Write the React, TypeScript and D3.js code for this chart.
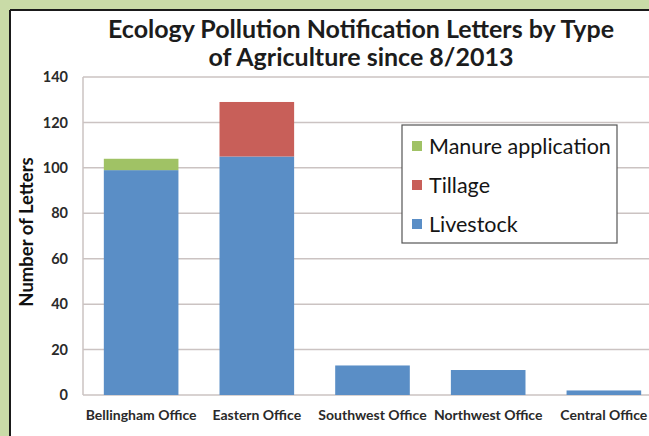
import React from "react";
import * as d3 from "d3";

const offices = ["Bellingham Office", "Eastern Office", "Southwest Office", "Northwest Office", "Central Office"];
const livestock = [99, 105, 13, 11, 2];
const tillage = [0, 24, 0, 0, 0];
const manure = [5, 0, 0, 0, 0];
const yTicks = [0, 20, 40, 60, 80, 100, 120, 140];
const seriesKeys = ["Livestock", "Tillage", "Manure application"];
const legendOrder = ["Manure application", "Tillage", "Livestock"];
const titleLines = ["Ecology Pollution Notification Letters by Type", "of Agriculture since 8/2013"];

const colors: Record<string, string> = {
  Livestock: "#5a8ec6",
  Tillage: "#c85f59",
  "Manure application": "#a0c265",
};

const W = 649;
const H = 436;
const FONT = "Lato, 'Open Sans', sans-serif";

export default function App() {
  const rows = offices.map((o, i) => ({
    office: o,
    Livestock: livestock[i],
    Tillage: tillage[i],
    "Manure application": manure[i],
  }));
  const stacked = d3.stack<any>().keys(seriesKeys)(rows);

  const plotLeft = 83;
  const plotRight = 662;
  const x = d3.scaleBand<string>().domain(offices).range([plotLeft, plotRight]).paddingInner(0.355).paddingOuter(0.18);
  const y = d3.scaleLinear().domain([0, 140]).range([395, 77]);
  const grid = "#cbc3c2";

  return (
    <svg width={W} height={H} style={{ position: "absolute", left: 0, top: 0 }} fontFamily={FONT}>
      <rect x={0} y={0} width={W} height={H} fill="#c9dba7" />
      <rect x={10} y={10} width={W} height={H} fill="#ffffff" />
      <line x1={10} y1={10} x2={W} y2={10} stroke="#1a1a1a" strokeWidth={2} />
      <line x1={10} y1={10} x2={10} y2={H} stroke="#1a1a1a" strokeWidth={2} />

      {titleLines.map((t, i) => (
        <text key={t} x={361} y={38 + i * 28} textAnchor="middle" fontSize={25} fontWeight={700} fill="#1c1c1c">
          {t}
        </text>
      ))}

      {yTicks.map((t) => (
        <g key={t}>
          <line x1={plotLeft} x2={W} y1={y(t)} y2={y(t)} stroke={grid} strokeWidth={1.5} />
          <text x={68} y={y(t)} dy="0.35em" textAnchor="end" fontSize={14.5} fontWeight={700} fill="#2a2a2a">
            {t}
          </text>
        </g>
      ))}
      <line x1={plotLeft} x2={plotLeft} y1={y(140)} y2={y(0)} stroke={grid} strokeWidth={1.5} />

      {stacked.map((s) => (
        <g key={s.key} fill={colors[s.key]}>
          {s.map((d, i) =>
            d[1] - d[0] > 0 ? (
              <rect
                key={offices[i]}
                x={x(offices[i])}
                width={x.bandwidth()}
                y={y(d[1])}
                height={y(d[0]) - y(d[1])}
              />
            ) : null
          )}
        </g>
      ))}

      {offices.map((o) => (
        <text key={o} x={(x(o) as number) + x.bandwidth() / 2} y={415} dy="0.35em" textAnchor="middle" fontSize={14} fontWeight={700} fill="#2a2a2a">
          {o}
        </text>
      ))}

      <text transform="translate(27,232) rotate(-90)" textAnchor="middle" dy="0.35em" fontSize={18.5} fontWeight={700} fill="#111">
        Number of Letters
      </text>

      <g>
        <rect x={402} y={125} width={215} height={118} fill="#ffffff" stroke="#555" strokeWidth={1.2} />
        {legendOrder.map((k, i) => (
          <g key={k}>
            <rect x={412} y={141 + i * 39} width={10} height={10} fill={colors[k]} />
            <text x={429} y={146 + i * 39} dy="0.35em" fontSize={21.5} fill="#151515">
              {k}
            </text>
          </g>
        ))}
      </g>
    </svg>
  );
}
